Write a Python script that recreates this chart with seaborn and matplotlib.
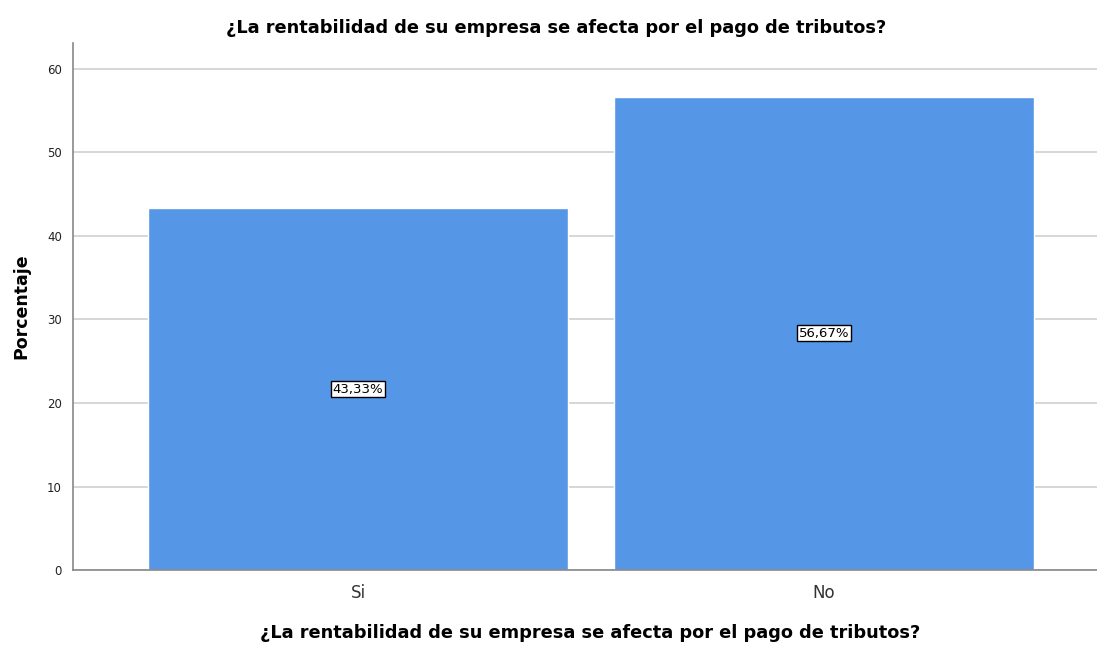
import matplotlib
matplotlib.use("Agg")
import matplotlib.pyplot as plt
import pandas as pd
import seaborn as sns

categorias = ["Si", "No"]
porcentajes = [43.33, 56.67]
etiquetas = ["43,33%", "56,67%"]

titulo = "¿La rentabilidad de su empresa se afecta por el pago de tributos?"

sns.set_theme(style="white")
plt.rcParams["font.family"] = ["DejaVu Sans"]

df = pd.DataFrame({"cat": categorias, "pct": porcentajes})

fig = plt.figure(figsize=(10.97, 6.46), dpi=100)
ax = fig.add_axes([0.0665, 0.1176, 0.9335, 0.8158])

ax.yaxis.grid(True, color="#d0d0d0", lw=1.2)
ax.set_axisbelow(True)
sns.barplot(data=df, x="cat", y="pct", color="#5596e6", saturation=1,
            width=0.9, ax=ax, zorder=2)

for i, (v, txt) in enumerate(zip(porcentajes, etiquetas)):
    ax.text(i, v / 2, txt, ha="center", va="center", fontsize=9.5, zorder=3,
            color="black",
            bbox=dict(boxstyle="square,pad=0.12", fc="white", ec="black", lw=1))

ax.set_ylim(0, 63.1)
ax.set_xlim(-0.612, 1.586)
ax.set_yticks(range(0, 61, 10))
ax.tick_params(axis="y", labelsize=8.5, length=0, pad=8, colors="#222222")
ax.tick_params(axis="x", labelsize=12, length=0, pad=10, colors="#333333")

for s in ["top", "right"]:
    ax.spines[s].set_visible(False)
for s in ["left", "bottom"]:
    ax.spines[s].set_color("#888888")
    ax.spines[s].set_linewidth(1.2)

ax.set_xlabel(titulo, fontsize=12.8, fontweight="bold", color="black")
ax.xaxis.set_label_coords(0.505, -0.103)
ax.set_ylabel("Porcentaje", fontsize=12.5, fontweight="bold", labelpad=12,
              color="black")
fig.text(0.507, 0.957, titulo, ha="center", va="center", fontsize=12.8,
         fontweight="bold", color="black")

fig.savefig("out.png", dpi=100)
